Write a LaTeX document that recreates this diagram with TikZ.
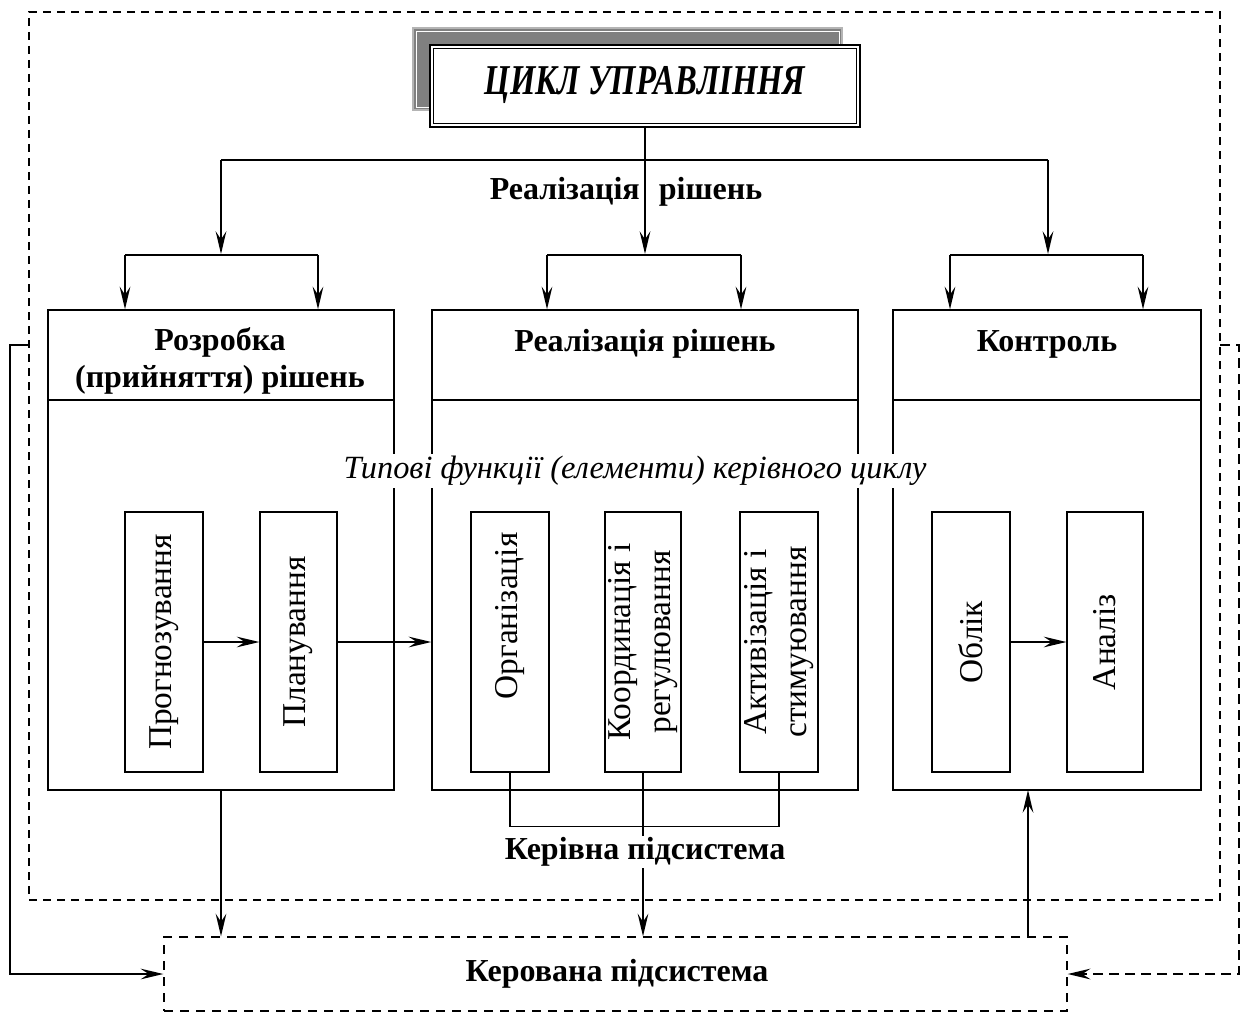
\documentclass[tikz,border=0pt]{standalone}
\usepackage{fontspec}
\setmainfont{Liberation Serif}
\usetikzlibrary{arrows.meta,fit}
\definecolor{shadefill}{HTML}{808080}
\definecolor{shadeedge}{HTML}{B4B4B4}
\begin{document}
\begin{tikzpicture}[x=0.75pt,y=-0.75pt,
  ln/.style={line width=1.4pt},
  arr/.style={line width=1.4pt,-{Stealth[length=17pt,width=8pt,inset=6pt]}},
  mainbox/.style={draw,line width=1pt,inner sep=0pt},
  fnbox/.style={draw,line width=0.9pt,inner sep=0pt},
  hdr/.style={font=\fontsize{24}{28}\selectfont\bfseries,align=center},
  vtxt/.style={rotate=90,font=\fontsize{25}{30}\selectfont,align=center},
]
\useasboundingbox (0,0) rectangle (1244,1012);

% outer dashed frame: the managing subsystem
\node[draw,inner sep=0pt,line width=1.1pt,dash pattern=on 6pt off 4.5pt,fit={(29,12)(1220,900)}] (outer) {};

% title with shadow and double border
\fill[shadefill,draw=shadeedge,line width=1.5pt] (413,28) rectangle (842,110);
\draw[white,line width=0.6pt] (416,31) rectangle (839,107);
\node[fit={(430,45)(860,127)},inner sep=0pt,draw,line width=2.2pt,fill=white] (title) {};
\draw[line width=1pt] ([shift={(5,-5)}]title.south west) rectangle ([shift={(-5,5)}]title.north east);
\node[font=\fontsize{24.5}{28}\selectfont\bfseries\itshape] at ([yshift=1pt]title) {\scalebox{1}[1.3]{ЦИКЛ УПРАВЛІННЯ}};

% three stages
\node[mainbox,fit={(48,310)(394,790)}] (dev) {};
\node[mainbox,fit={(432,310)(858,790)}] (impl) {};
\node[mainbox,fit={(893,310)(1201,790)}] (ctrl) {};
\foreach \b in {dev,impl,ctrl}
  \draw[line width=1pt] (\b.west |- 0,400) -- (\b.east |- 0,400);
\node[hdr] at (220,361) {Розробка\\(прийняття) рішень};
\node[hdr] at (645,344) {Реалізація рішень};
\node[hdr] at (1047,344) {Контроль};

% distribution of the cycle
\coordinate (jL) at (221,160);
\coordinate (jR) at (1048,160);
\coordinate (sL) at (221,254);
\coordinate (sM) at (645,254);
\coordinate (sR) at (1048,254);
\draw[ln] (jL) -- (jR);
\draw[arr] (jL) -- (sL);
\draw[arr] (title.south) -- (sM);
\draw[arr] (jR) -- (sR);
\coordinate (l1) at (125,255); \coordinate (l2) at (318,255);
\coordinate (m1) at (547,255); \coordinate (m2) at (741,255);
\coordinate (r1) at (950,255); \coordinate (r2) at (1143,255);
\draw[ln] (l1) -- (l2);
\draw[ln] (m1) -- (m2);
\draw[ln] (r1) -- (r2);
\foreach \p/\b in {l1/dev,l2/dev,m1/impl,m2/impl,r1/ctrl,r2/ctrl}
  \draw[arr] (\p) -- (\p |- \b.north);
\node[font=\fontsize{24}{28}\selectfont\bfseries] at (626,192) {Реалізація\hspace{0.6em}рішень};

% typical functions
\node[fnbox,fit={(125,512)(203,772)}] (prog) {};
\node[fnbox,fit={(260,512)(337,772)}] (plan) {};
\node[fnbox,fit={(471,512)(549,772)}] (org) {};
\node[fnbox,fit={(605,512)(681,772)}] (coord) {};
\node[fnbox,fit={(740,512)(818,772)}] (act) {};
\node[fnbox,fit={(932,512)(1010,772)}] (acc) {};
\node[fnbox,fit={(1067,512)(1143,772)}] (anl) {};
\node[vtxt] at (prog) {Прогнозування};
\node[vtxt] at (plan) {Планування};
\node[vtxt] at (510,616) {Організація};
\node[vtxt] at (coord) {Координація і\\регулювання};
\node[vtxt] at (act) {Активізація і\\стимуювання};
\node[vtxt] at (acc) {Облік};
\node[vtxt] at (anl) {Аналіз};

\draw[arr] (prog.east) -- (plan.west);
\draw[arr] (plan.east) -- (plan.east -| impl.west);
\draw[arr] (acc.east) -- (anl.west);

\node[fill=white,inner sep=2pt,font=\fontsize{24.3}{28}\selectfont\itshape] at (635,471) {Типові функції (елементи) керівного циклу};

% managed subsystem
\node[draw,inner sep=0pt,line width=1pt,dash pattern=on 7pt off 5pt,fit={(164,937)(1067,1011)}] (managed) {};
\node[hdr] at (617,974) {Керована підсистема};

\draw[line width=1pt] (org.south) -- ++(0,54) -| (act.south);
\draw[arr] (coord.south) -- (coord.south |- managed.north);
\node[hdr,fill=white,inner sep=1pt] at (645,852) {Керівна підсистема};

\draw[arr] (dev.south) -- (dev.south |- managed.north);
\coordinate (up) at (1028,790);
\draw[arr] (up |- managed.north) -- (up);

% feedback loops
\coordinate (fl) at (29,345);
\coordinate (fr) at (1220,345);
\draw[arr] (fl) -- (10,345) |- (managed.west);
\draw[arr,line width=1.6pt,dash pattern=on 7.5pt off 4.5pt] (fr) -- (1239,345) |- (managed.east);
\end{tikzpicture}
\end{document}
